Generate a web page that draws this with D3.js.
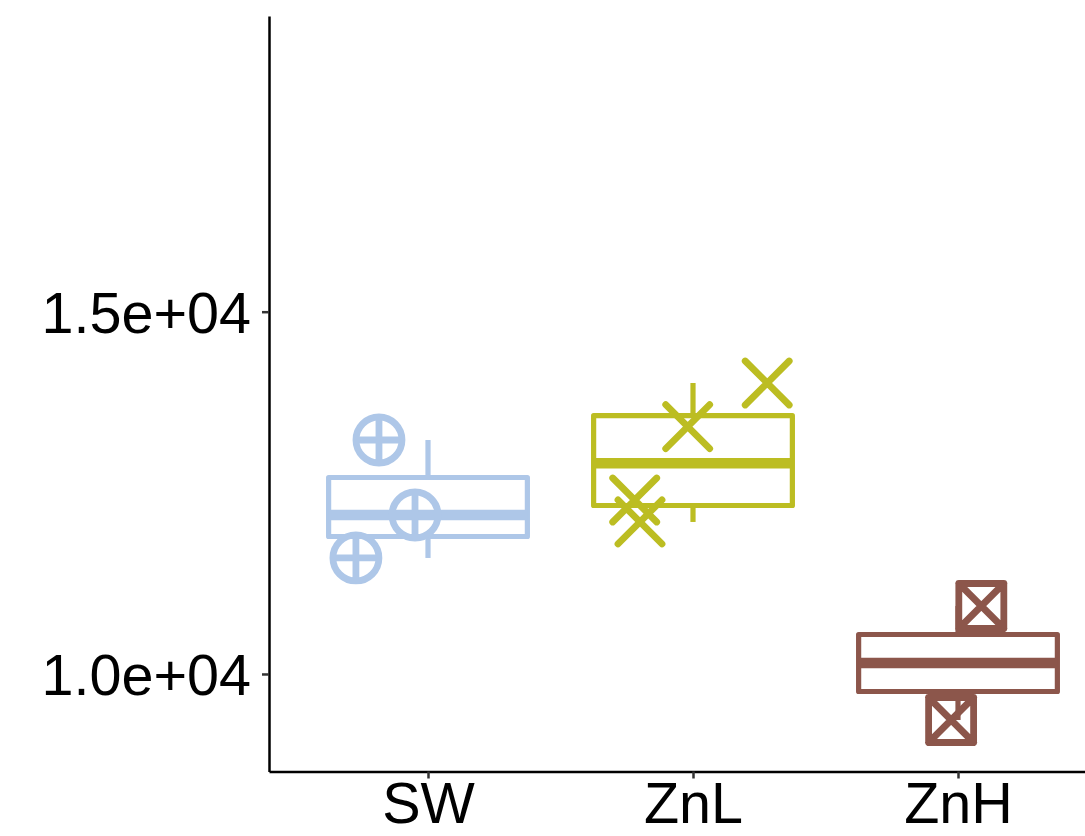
<!DOCTYPE html>
<html>
<head>
<meta charset="utf-8">
<script src="https://cdn.jsdelivr.net/npm/d3@7"></script>
<style>
  html, body { margin: 0; padding: 0; background: #ffffff; }
  svg { display: block; }
  text { font-family: "Liberation Sans", Arial, Helvetica, sans-serif; }
</style>
</head>
<body>
<svg id="chart" width="1085" height="836"></svg>
<script>
// Treatment groups along the x axis
const categories = ["SW", "ZnL", "ZnH"];

// Measured values per treatment
const swValues  = [13229, 12194, 11601];
const znlValues = [14016, 13415, 12401, 12098];
const znhValues = [10938, 9365];

// Horizontal jitter of each point, in units of the category step
const swJitter  = [-0.185, -0.049, -0.272];
const znlJitter = [0.28, -0.02, -0.22, -0.20];
const znhJitter = [0.088, -0.026];

// Y axis ticks and their labels
const yTicks = [10000, 15000];
const yTickLabels = ["1.0e+04", "1.5e+04"];

const groupColors = ["#AEC7E8", "#BCBD22", "#8C564B"];
const groupShapes = ["circlePlus", "cross", "squareCross"];

const groups = [
  { name: categories[0], values: swValues,  jitter: swJitter,  color: groupColors[0], shape: groupShapes[0] },
  { name: categories[1], values: znlValues, jitter: znlJitter, color: groupColors[1], shape: groupShapes[1] },
  { name: categories[2], values: znhValues, jitter: znhJitter, color: groupColors[2], shape: groupShapes[2] }
];

const svg = d3.select("#chart");

const panel = { left: 269, right: 1117, top: 16, bottom: 771.5 };

const x = d3.scalePoint()
  .domain(categories)
  .range([panel.left, panel.right])
  .padding(0.6);

const y = d3.scaleLinear()
  .domain([8654, 19081])
  .range([panel.bottom, panel.top]);

const step = x.step();
const boxWidth = step * 0.75;
const lineW = 5.2;

// Box statistics (R type-7 quantiles, whiskers at 1.5 * IQR)
function boxStats(vals) {
  const s = vals.slice().sort(d3.ascending);
  const q1 = d3.quantile(s, 0.25);
  const med = d3.quantile(s, 0.5);
  const q3 = d3.quantile(s, 0.75);
  const iqr = q3 - q1;
  const lo = d3.min(s.filter(v => v >= q1 - 1.5 * iqr));
  const hi = d3.max(s.filter(v => v <= q3 + 1.5 * iqr));
  return { q1, med, q3, lo, hi };
}

const boxes = svg.append("g").attr("class", "boxes");
groups.forEach(g => {
  const st = boxStats(g.values);
  const cx = x(g.name);
  const bg = boxes.append("g")
    .attr("stroke", g.color)
    .attr("fill", "none")
    .attr("stroke-linejoin", "round");
  // whiskers
  bg.append("line")
    .attr("x1", cx).attr("x2", cx)
    .attr("y1", y(st.q3)).attr("y2", y(st.hi))
    .attr("stroke-width", lineW);
  bg.append("line")
    .attr("x1", cx).attr("x2", cx)
    .attr("y1", y(st.q1)).attr("y2", y(st.lo))
    .attr("stroke-width", lineW);
  // box
  bg.append("rect")
    .attr("x", cx - boxWidth / 2)
    .attr("y", y(st.q3))
    .attr("width", boxWidth)
    .attr("height", y(st.q1) - y(st.q3))
    .attr("fill", "#ffffff")
    .attr("stroke-width", lineW);
  // median
  bg.append("line")
    .attr("x1", cx - boxWidth / 2).attr("x2", cx + boxWidth / 2)
    .attr("y1", y(st.med)).attr("y2", y(st.med))
    .attr("stroke-width", lineW * 2);
});

// Point symbols
const r = 23;
function symbolPath(shape) {
  const p = d3.path();
  if (shape === "circlePlus") {
    p.moveTo(r, 0); p.arc(0, 0, r, 0, 2 * Math.PI);
    p.moveTo(-r, 0); p.lineTo(r, 0);
    p.moveTo(0, -r); p.lineTo(0, r);
  } else if (shape === "cross") {
    const h = 22;
    p.moveTo(-h, -h); p.lineTo(h, h);
    p.moveTo(-h, h); p.lineTo(h, -h);
  } else {
    const h = 22.5;
    p.rect(-h, -h, 2 * h, 2 * h);
    p.moveTo(-h, -h); p.lineTo(h, h);
    p.moveTo(-h, h); p.lineTo(h, -h);
  }
  return p.toString();
}

const pts = svg.append("g").attr("class", "points");
groups.forEach(g => {
  pts.selectAll(null)
    .data(g.values.map((v, i) => ({ v, j: g.jitter[i] })))
    .join("path")
    .attr("d", symbolPath(g.shape))
    .attr("transform", d => `translate(${x(g.name) + d.j * step},${y(d.v)})`)
    .attr("fill", "none")
    .attr("stroke", g.color)
    .attr("stroke-width", 6.8)
    .attr("stroke-linecap", "round")
    .attr("stroke-linejoin", "round");
});

// Axes
const fontSize = 57.5;

const yAxis = svg.append("g")
  .attr("transform", `translate(${panel.left},0)`)
  .call(d3.axisLeft(y)
    .tickValues(yTicks)
    .tickFormat((d, i) => yTickLabels[i])
    .tickSizeInner(7)
    .tickSizeOuter(0)
    .tickPadding(11));

const xAxis = svg.append("g")
  .attr("transform", `translate(0,${panel.bottom})`)
  .call(d3.axisBottom(x)
    .tickSizeInner(7)
    .tickSizeOuter(0)
    .tickPadding(4));

[yAxis, xAxis].forEach(ax => {
  ax.select(".domain").attr("stroke", "#000").attr("stroke-width", 2.5);
  ax.selectAll(".tick line").attr("stroke", "#333").attr("stroke-width", 2.5);
  ax.selectAll(".tick text")
    .attr("fill", "#000")
    .style("font-size", fontSize + "px")
    .style("font-family", "'Liberation Sans', Arial, Helvetica, sans-serif");
});

yAxis.selectAll(".tick text").attr("dy", "0.36em");
xAxis.selectAll(".tick text").attr("dy", "0.71em");
</script>
</body>
</html>
